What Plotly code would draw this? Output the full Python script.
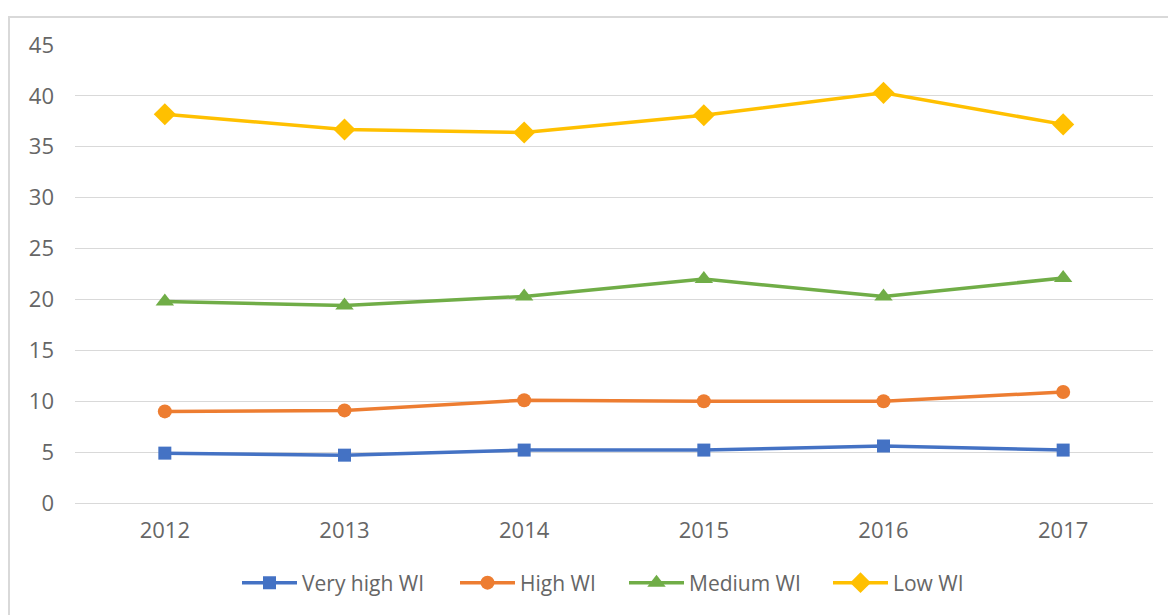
import plotly.graph_objects as go

years = ["2012", "2013", "2014", "2015", "2016", "2017"]
very_high = [4.9, 4.7, 5.2, 5.2, 5.6, 5.2]
high = [9.0, 9.1, 10.1, 10.0, 10.0, 10.9]
medium = [19.8, 19.4, 20.3, 22.0, 20.3, 22.1]
low = [38.2, 36.7, 36.4, 38.1, 40.3, 37.2]

series = [
    ("Very high WI", very_high, "#4472C4", "square", 13),
    ("High WI", high, "#ED7D31", "circle", 14),
    ("Medium WI", medium, "#70AD47", "triangle-up", 16),
    ("Low WI", low, "#FFC000", "diamond", 17),
]

FONT = "Open Sans, Lato, sans-serif"
TXT = "#666666"
legend_x_px = [237, 455, 624, 828]
L, R, T, B, W, H = 75, 15, 45, 112, 1168, 615
PW = W - L - R
PH = H - T - B

fig = go.Figure()
layout_legends = {}
for i, (name, vals, color, sym, size) in enumerate(series):
    lname = "legend" if i == 0 else f"legend{i + 1}"
    fig.add_trace(go.Scatter(
        x=years, y=vals, name=name, mode="lines+markers",
        line=dict(color=color, width=3.5),
        marker=dict(symbol=sym, size=size, color=color),
        legend=lname,
    ))
    layout_legends[lname] = dict(
        orientation="h", x=(legend_x_px[i] - L) / PW, xanchor="left",
        y=-(583 - (H - B)) / PH, yanchor="middle", itemwidth=55,
        font=dict(family=FONT, size=21, color=TXT), bgcolor="rgba(0,0,0,0)",
    )

fig.update_layout(
    width=W, height=H,
    margin=dict(l=L, r=R, t=T, b=B),
    paper_bgcolor="white", plot_bgcolor="white",
    font=dict(family=FONT, size=22, color=TXT),
    showlegend=True,
    xaxis=dict(type="category", range=[-0.5, 5.5], showgrid=False, showline=True,
               linecolor="#d9d9d9", ticks="", tickfont=dict(size=22, color=TXT),
               ticklabelstandoff=8),
    yaxis=dict(range=[0, 45], dtick=5, showgrid=True, gridcolor="#d9d9d9", zeroline=False,
               showline=False, ticks="", tickfont=dict(size=22, color=TXT),
               ticklabelstandoff=20),
    shapes=[dict(type="rect", xref="paper", yref="paper",
                 x0=(9 - L) / PW, x1=(1180 - L) / PW,
                 y0=(H - B - 630) / PH, y1=(H - B - 17) / PH,
                 line=dict(color="#d9d9d9", width=2), layer="below")],
    **layout_legends,
)

fig.write_html("out.html", config={"displayModeBar": False},
               post_script="document.body.style.margin='0';")
